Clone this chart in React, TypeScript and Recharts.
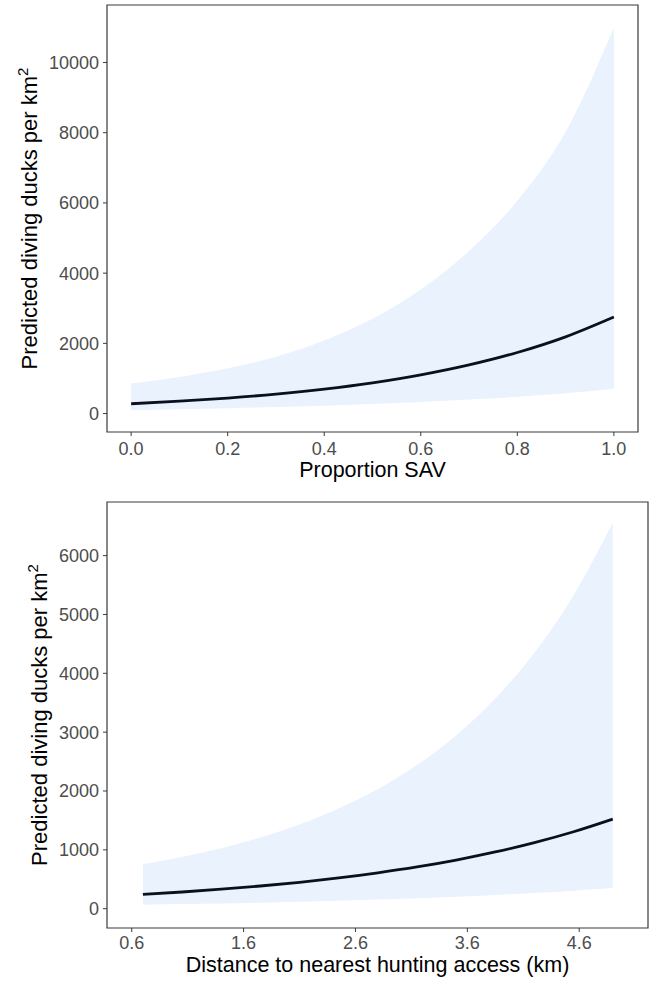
import React from 'react';
import { ComposedChart, Area, Line, XAxis, YAxis, ReferenceArea, Label } from 'recharts';

// proportion SAV panel
const savX = [0, 0.1, 0.2, 0.3, 0.4, 0.5, 0.6, 0.7, 0.8, 0.9, 1.0];
const savFit = [280, 352, 442, 555, 698, 877, 1102, 1385, 1740, 2186, 2750];
const savLow = [95, 120, 150, 185, 225, 270, 330, 400, 480, 580, 710];
const savHigh = [855, 1044, 1288, 1621, 2081, 2699, 3534, 4629, 6064, 8023, 10990];
const savXTicks = [0, 0.2, 0.4, 0.6, 0.8, 1.0];
const savYTicks = [0, 2000, 4000, 6000, 8000, 10000];

// distance to hunting access panel
const distX = [0.7, 1.05, 1.4, 1.75, 2.1, 2.45, 2.8, 3.15, 3.5, 3.85, 4.2, 4.55, 4.9];
const distFit = [244, 284, 331, 386, 449, 523, 610, 710, 827, 964, 1123, 1308, 1523];
const distLow = [68, 78, 89, 103, 118, 135, 155, 178, 204, 234, 268, 307, 352];
const distHigh = [754, 879, 1029, 1211, 1432, 1702, 2033, 2440, 2944, 3570, 4350, 5327, 6557];
const distXTicks = [0.6, 1.6, 2.6, 3.6, 4.6];
const distYTicks = [0, 1000, 2000, 3000, 4000, 5000, 6000];

const FONT = '"Liberation Sans", Arial, Helvetica, sans-serif';
const BAND = '#EAF2FD';
const LINE = '#0B1020';
const FRAME = '#3a3a3a';

const rows = (xs: number[], fit: number[], lo: number[], hi: number[]) =>
  xs.map((x, i) => ({ x, fit: fit[i], band: [lo[i], hi[i]] }));

interface PanelProps {
  data: any[];
  xDomain: [number, number];
  yDomain: [number, number];
  xTicks: number[];
  yTicks: number[];
  xTitle: string;
  height: number;
  margin: { top: number; right: number; bottom: number; left: number };
  xAxisHeight: number;
  tickMargin: number;
  yTitleX: number;
  xTitleDy: number;
}

const Panel = (p: PanelProps) => (
  <ComposedChart width={649} height={p.height} data={p.data} margin={p.margin}>
    <XAxis
      type="number"
      dataKey="x"
      domain={p.xDomain}
      ticks={p.xTicks}
      interval={0}
      allowDataOverflow
      height={p.xAxisHeight}
      tickSize={4}
      tickMargin={p.tickMargin}
      axisLine={false}
      tickLine={{ stroke: FRAME }}
      tick={{ fontSize: 18, fill: '#4d4d4d', fontFamily: FONT }}
      tickFormatter={(v: number) => v.toFixed(1)}
    >
      <Label
        content={(props: any) => {
          const vb = props.viewBox;
          return (
            <text x={vb.x + vb.width / 2} y={vb.y + p.xTitleDy} textAnchor="middle" fontSize={21.5} fontFamily={FONT} fill="#000">
              {p.xTitle}
            </text>
          );
        }}
      />
    </XAxis>
    <YAxis
      type="number"
      domain={p.yDomain}
      ticks={p.yTicks}
      interval={0}
      allowDataOverflow
      width={107}
      tickSize={4}
      tickMargin={4}
      axisLine={false}
      tickLine={{ stroke: FRAME }}
      tick={{ fontSize: 18, fill: '#4d4d4d', fontFamily: FONT }}
    >
      <Label
        content={(props: any) => {
          const vb = props.viewBox;
          const cx = vb.x + p.yTitleX;
          const cy = vb.y + vb.height / 2;
          return (
            <text x={cx} y={cy} transform={`rotate(-90, ${cx}, ${cy})`} textAnchor="middle" fontSize={22} fontFamily={FONT} fill="#000">
              Predicted diving ducks per km<tspan dy={-9} fontSize={15}>2</tspan>
            </text>
          );
        }}
      />
    </YAxis>
    <Area type="monotone" dataKey="band" stroke="none" fill={BAND} fillOpacity={1} isAnimationActive={false} />
    <Line type="monotone" dataKey="fit" stroke={LINE} strokeWidth={2.8} dot={false} isAnimationActive={false} />
    <ReferenceArea
      x1={p.xDomain[0]}
      x2={p.xDomain[1]}
      y1={p.yDomain[0]}
      y2={p.yDomain[1]}
      fill="none"
      stroke={FRAME}
      strokeWidth={1.2}
      ifOverflow="visible"
    />
  </ComposedChart>
);

export default function App() {
  return (
    <div style={{ position: 'absolute', left: 0, top: 0, width: 649, height: 981, background: '#fff', fontFamily: FONT }}>
      <Panel
        data={rows(savX, savFit, savLow, savHigh)}
        xDomain={[-0.05, 1.05]}
        yDomain={[-525, 11637]}
        xTicks={savXTicks}
        yTicks={savYTicks}
        xTitle="Proportion SAV"
        height={490}
        margin={{ top: 5, right: 11, bottom: 0, left: 0 }}
        xAxisHeight={58}
        tickMargin={6}
        yTitleX={37}
        xTitleDy={45}
      />
      <Panel
        data={rows(distX, distFit, distLow, distHigh)}
        xDomain={[0.379, 5.215]}
        yDomain={[-328, 6911]}
        xTicks={distXTicks}
        yTicks={distYTicks}
        xTitle="Distance to nearest hunting access (km)"
        height={491}
        margin={{ top: 12, right: 1, bottom: 0, left: 0 }}
        xAxisHeight={53}
        tickMargin={4}
        yTitleX={46.5}
        xTitleDy={44}
      />
    </div>
  );
}
